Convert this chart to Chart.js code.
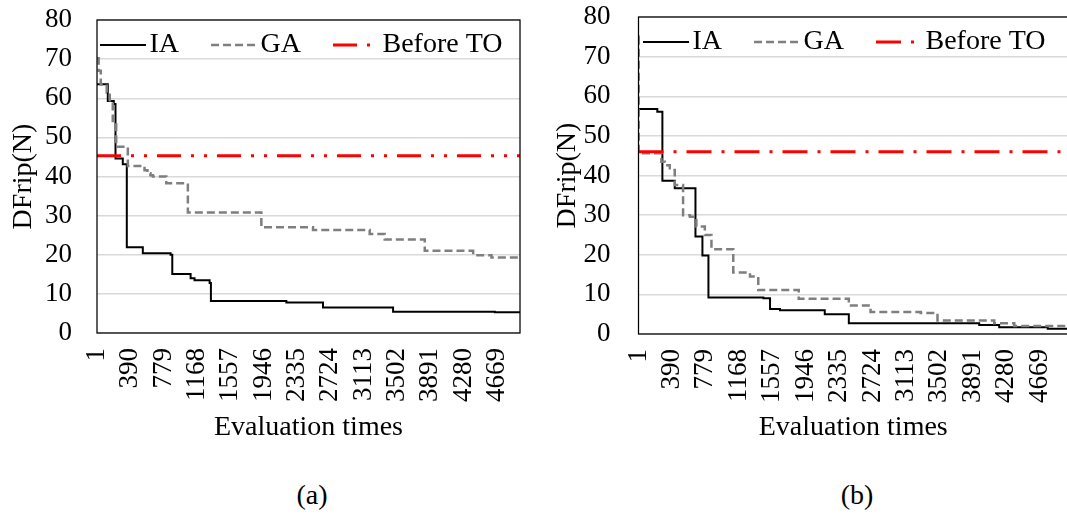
<!DOCTYPE html>
<html>
<head>
<meta charset="utf-8">
<script src="https://cdn.jsdelivr.net/npm/chart.js@4.4.1/dist/chart.umd.min.js"></script>
<style>
	html, body { margin: 0; padding: 0; background: #fff; overflow: hidden; }
	body { width: 1067px; height: 520px; position: relative; }
	canvas { position: absolute; top: 0; }
	#chartA { left: 0; }
	#chartB { left: 530px; }
	.caption {
		position: absolute; top: 478px; width: 100px; text-align: center;
		font: 28px 'Liberation Serif', 'Times New Roman', serif; line-height: 34px; color: #000;
	}
</style>
</head>
<body>
<canvas id="chartA" width="530" height="470"></canvas>
<canvas id="chartB" width="540" height="470"></canvas>
<div class="caption" style="left:262px">(a)</div>
<div class="caption" style="left:807px">(b)</div>
<script>
// tick labels on the x axis (evaluation count)
var xTicks = [1, 390, 779, 1168, 1557, 1946, 2335, 2724, 3113, 3502, 3891, 4280, 4669];

// panel (a): x = evaluation where the new best value starts, y = DFrip (N)
var iaAx = [1, 127, 197, 217, 302, 349, 536, 860, 880, 1094, 1140, 1316, 1331, 2212, 2640, 3458, 4646, 4940];
var iaAy = [63.6, 59.3, 58.5, 44.6, 43.1, 21.9, 20.4, 20.0, 15.1, 14.0, 13.5, 12.8, 8.2, 7.8, 6.5, 5.4, 5.3, 5.3];
var gaAx = [1, 20, 45, 115, 150, 185, 225, 361, 556, 590, 625, 653, 810, 1062, 1920, 2523, 3185, 3360, 3828, 4393, 4607, 4940];
var gaAy = [70.2, 67.0, 63.5, 61.5, 59.5, 54.2, 47.6, 42.7, 41.6, 40.8, 40.3, 40.0, 38.3, 30.8, 27.0, 26.3, 25.3, 23.9, 21.0, 19.9, 19.3, 19.3];
var beforeA = 45.3;
var xMaxA = 4940;

// panel (b)
var iaBx = [1, 220, 279, 423, 664, 745, 815, 1454, 1532, 1648, 2169, 2449, 3966, 4199, 4764, 5000];
var iaBy = [56.8, 56.1, 38.7, 36.8, 24.6, 19.8, 9.2, 9.0, 6.3, 6.0, 5.0, 2.7, 2.3, 1.7, 1.35, 1.35];
var gaBx = [1, 3, 267, 307, 365, 423, 520, 600, 675, 773, 850, 1104, 1299, 1395, 1866, 2449, 2702, 3286, 3481, 4141, 4375, 5000];
var gaBy = [75.0, 45.6, 43.5, 42.6, 41.4, 37.6, 30.0, 29.6, 27.1, 25.0, 21.4, 15.5, 14.5, 11.1, 8.9, 7.2, 5.55, 5.3, 3.4, 2.7, 2.0, 2.0];
var beforeB = 46.0;
var xMaxB = 5000;

var serif = "'Liberation Serif', 'Times New Roman', serif";
Chart.defaults.font.family = serif;
Chart.defaults.color = '#000';

function toPoints(xs, ys){
	return xs.map(function(x, i){
		return {x: x, y: ys[i]};
	});
}

// black box round the plot area
var frame = {
	id: 'frame',
	afterDatasetsDraw: function(chart){
		var a = chart.chartArea;
		var ctx = chart.ctx;
		ctx.save();
		ctx.strokeStyle = '#000';
		ctx.lineWidth = 1.25;
		ctx.strokeRect(a.left, a.top, a.right - a.left, a.bottom - a.top);
		ctx.restore();
	}
};

// legend drawn inside the plot, with line samples like the original
var lineLegend = {
	id: 'lineLegend',
	afterDraw: function(chart, args, opts){
		var ctx = chart.ctx;
		var a = chart.chartArea;
		var x = a.left + opts.left;
		var y = a.top + opts.top;
		ctx.save();
		ctx.font = '28px ' + serif;
		ctx.textBaseline = 'middle';
		ctx.textAlign = 'left';
		ctx.fillStyle = '#000';
		chart.data.datasets.forEach(function(ds){
			ctx.beginPath();
			ctx.setLineDash(ds.borderDash || []);
			ctx.lineWidth = ds.borderWidth;
			ctx.strokeStyle = ds.borderColor;
			ctx.moveTo(x, y);
			ctx.lineTo(x + opts.sample, y);
			ctx.stroke();
			ctx.setLineDash([]);
			x += opts.sample + opts.textGap;
			ctx.fillText(ds.label, x, y);
			x += ctx.measureText(ds.label).width + opts.itemGap;
		});
		ctx.restore();
	}
};

function drawPanel(opt){

	var data = {
		datasets: [
			{
				label: 'IA',
				data: toPoints(opt.iaX, opt.iaY),
				borderColor: '#000000',
				borderWidth: 2,
				stepped: true,
				pointRadius: 0,
				order: 3
			},
			{
				label: 'GA',
				data: toPoints(opt.gaX, opt.gaY),
				borderColor: '#7f7f7f',
				borderWidth: 2.5,
				borderDash: [8, 4],
				stepped: true,
				pointRadius: 0,
				order: 2
			},
			{
				label: 'Before TO',
				data: [{x: 1, y: opt.before}, {x: opt.xMax, y: opt.before}],
				borderColor: '#ff0000',
				borderWidth: 3,
				borderDash: opt.redDash,
				pointRadius: 0,
				order: 1
			}
		]
	};

	var options = {
		responsive: false,
		animation: false,
		events: [],
		layout: { padding: opt.pad },
		plugins: {
			legend: { display: false },
			tooltip: { enabled: false },
			lineLegend: opt.legend
		},
		scales: {
			x: {
				type: 'linear',
				min: 1,
				max: opt.xMax,
				afterBuildTicks: function(s){
					s.ticks = xTicks.map(function(v){ return {value: v}; });
				},
				afterFit: function(s){
					s.height = opt.xHeight;
					s.paddingLeft = 0;
					s.paddingRight = 0;
				},
				grid: { display: false, drawTicks: false },
				border: { display: false },
				ticks: {
					autoSkip: false,
					minRotation: 90,
					maxRotation: 90,
					padding: 15,
					font: { size: 27 },
					color: '#000',
					callback: function(v){ return String(v); }
				},
				title: {
					display: true,
					text: 'Evaluation times',
					font: { size: 28 },
					color: '#000',
					padding: { top: 0, bottom: 26 }
				}
			},
			y: {
				min: 0,
				max: 80,
				afterFit: function(s){
					s.width = opt.yWidth;
					s.paddingTop = 0;
					s.paddingBottom = 0;
				},
				grid: { color: '#d9d9d9', lineWidth: 1.5, drawTicks: false },
				border: { display: false },
				ticks: {
					stepSize: 10,
					padding: opt.yPad,
					font: { size: 27 },
					color: '#000'
				},
				title: {
					display: true,
					text: 'DFrip(N)',
					font: { size: 28 },
					color: '#000',
					padding: { top: opt.yTitlePad, bottom: 0 }
				}
			}
		}
	};

	return new Chart(opt.ctx, {
		type: 'line',
		data: data,
		options: options,
		plugins: [frame, lineLegend]
	});
}

drawPanel({
	ctx: document.getElementById('chartA'),
	iaX: iaAx, iaY: iaAy, gaX: gaAx, gaY: gaAy,
	before: beforeA, xMax: xMaxA,
	redDash: [24, 10, 3, 10, 3, 10],
	pad: { left: 0, top: 20, right: 10, bottom: 0 },
	yWidth: 97, xHeight: 137, yPad: 25, yTitlePad: 7,
	legend: { left: 3, top: 25, sample: 46, textGap: 3.5, itemGap: 32 }
});

drawPanel({
	ctx: document.getElementById('chartB'),
	iaX: iaBx, iaY: iaBy, gaX: gaBx, gaY: gaBy,
	before: beforeB, xMax: xMaxB,
	redDash: [25, 10, 3, 10],
	pad: { left: 0, top: 17, right: 2, bottom: 0 },
	yWidth: 108.5, xHeight: 136, yPad: 28, yTitlePad: 21,
	legend: { left: 4.5, top: 25, sample: 46, textGap: 3.5, itemGap: 32 }
});
</script>
</body>
</html>
